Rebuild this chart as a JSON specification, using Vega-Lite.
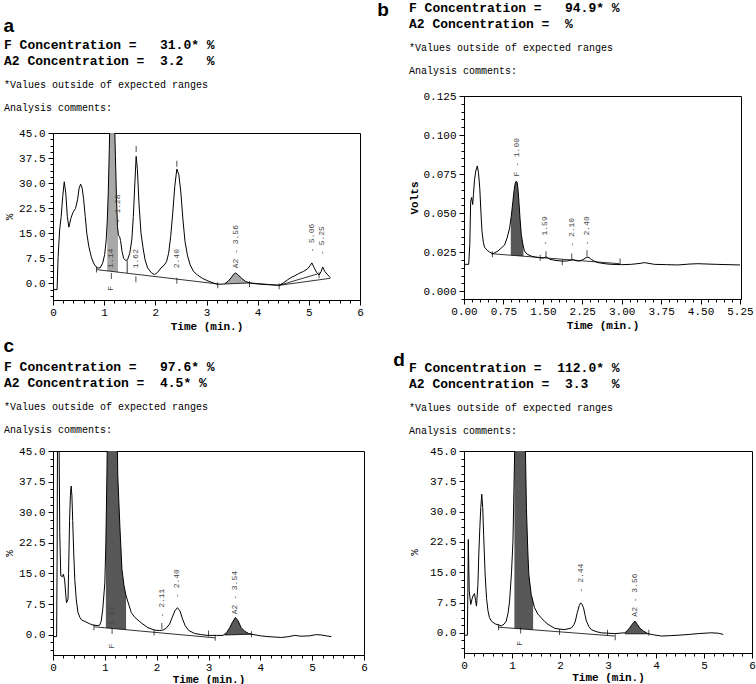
{
"$schema":"https://vega.github.io/schema/vega-lite/v6.json",
"background":"white",
"padding":{"left":3,"top":1,"right":0,"bottom":0},
"spacing":9,
"hconcat":[
{"spacing":5,"vconcat":[
 {"spacing":-94,"vconcat":[
 {"width":1,"height":1,"data":{"values":[]},"mark":{"type":"point","opacity":0},"encoding":{},"view":{"stroke":null}},
 {"title":{"text":["","a"],"anchor":"start","font":"Liberation Sans","fontSize":19,"fontWeight":"bold","lineHeight":14,"offset":2,"color":"black"},
  "vconcat":[{
  "width":307,"height":167,
  "title":{"text":["F Concentration =\u00a0\u00a0\u00a031.0* %","A2 Concentration =\u00a0\u00a03.2\u00a0\u00a0\u00a0%"],"subtitle":["*Values outside of expected ranges","Analysis comments:"],"anchor":"start","font":"Liberation Mono","fontSize":13,"fontWeight":"bold","lineHeight":16.5,"subtitleFont":"Liberation Mono","subtitleFontSize":10,"subtitleLineHeight":23,"subtitlePadding":12,"offset":14,"color":"black","subtitleColor":"black"},
  "encoding":{
   "x":{"field":"x","type":"quantitative","scale":{"domain":[0,6],"nice":false,"zero":false},"axis":{"title":"Time (min.)","values":[0,0.2,0.4,0.6,0.8,1,1.2,1.4,1.6,1.8,2,2.2,2.4,2.6,2.8,3,3.2,3.4,3.6,3.8,4,4.2,4.4,4.6,4.8,5,5.2,5.4,5.6,5.8,6],"labelExpr":"abs(datum.value - round(datum.value)) < 0.001 ? '' + round(datum.value) : ''","tickSize":{"condition":{"test":"abs(datum.value - round(datum.value)) < 0.001","value":5},"value":3}}},
   "y":{"field":"y","type":"quantitative","scale":{"domain":[-5,45],"nice":false,"zero":false},"axis":{"title":"%","titleFontWeight":"normal","titlePadding":3.6,"values":[-3.75,-1.875,0,1.875,3.75,5.625,7.5,9.375,11.25,13.125,15,16.875,18.75,20.625,22.5,24.375,26.25,28.125,30,31.875,33.75,35.625,37.5,39.375,41.25,43.125,45],"format":".1f","labelExpr":"datum.value % 7.5 === 0 ? datum.label : ''","tickSize":{"condition":{"test":"datum.value % 7.5 === 0","value":5},"value":3}}}
  },
  "layer":[
   {"data":{"values":[{"x":1.06,"y":18.6,"y0":3.72},{"x":1.08,"y":27,"y0":3.68},{"x":1.1,"y":40,"y0":3.65},{"x":1.12,"y":55,"y0":3.61},{"x":1.15,"y":70,"y0":3.56},{"x":1.18,"y":62,"y0":3.5},{"x":1.2,"y":50,"y0":3.47},{"x":1.22,"y":38,"y0":3.43},{"x":1.24,"y":26,"y0":3.39},{"x":1.26,"y":17,"y0":3.36},{"x":1.27,"y":15.6,"y0":3.34}]},"mark":{"type":"area","color":"#a8a8a8","clip":true},"encoding":{"y2":{"field":"y0"}}},
   {"data":{"values":[{"x":3.35,"y":-0.2,"y0":-0.2},{"x":3.42,"y":0.6,"y0":-0.16},{"x":3.48,"y":1.6,"y0":-0.12},{"x":3.53,"y":2.7,"y0":-0.09},{"x":3.57,"y":3.1,"y0":-0.07},{"x":3.61,"y":2.6,"y0":-0.04},{"x":3.68,"y":1.6,"y0":0},{"x":3.76,"y":0.6,"y0":0.05},{"x":3.84,"y":0.1,"y0":0.1}]},"mark":{"type":"area","color":"#a8a8a8","clip":true},"encoding":{"y2":{"field":"y0"}}},
   {"data":{"values":[{"x":0,"y":-1.9},{"x":0.08,"y":-1.9},{"x":0.1,"y":8},{"x":0.13,"y":16},{"x":0.16,"y":20},{"x":0.19,"y":26},{"x":0.22,"y":30.4},{"x":0.25,"y":27},{"x":0.28,"y":20},{"x":0.31,"y":16.8},{"x":0.35,"y":19.5},{"x":0.39,"y":21.2},{"x":0.44,"y":22.4},{"x":0.48,"y":25},{"x":0.51,"y":28.5},{"x":0.54,"y":29.7},{"x":0.57,"y":28.5},{"x":0.6,"y":25},{"x":0.63,"y":20},{"x":0.66,"y":15},{"x":0.7,"y":11},{"x":0.75,"y":7.8},{"x":0.8,"y":5.8},{"x":0.86,"y":4.6},{"x":0.92,"y":4.6},{"x":0.97,"y":6},{"x":1.01,"y":8.6},{"x":1.04,"y":13},{"x":1.06,"y":18.6},{"x":1.08,"y":27},{"x":1.1,"y":40},{"x":1.12,"y":55},{"x":1.15,"y":70},{"x":1.18,"y":62},{"x":1.2,"y":50},{"x":1.22,"y":38},{"x":1.24,"y":26},{"x":1.26,"y":17},{"x":1.28,"y":14.3},{"x":1.3,"y":14.1},{"x":1.32,"y":12.8},{"x":1.35,"y":9.5},{"x":1.38,"y":7.5},{"x":1.42,"y":6.8},{"x":1.46,"y":7.2},{"x":1.5,"y":9},{"x":1.54,"y":13},{"x":1.57,"y":20},{"x":1.6,"y":30},{"x":1.625,"y":38},{"x":1.65,"y":34},{"x":1.68,"y":24},{"x":1.72,"y":15},{"x":1.76,"y":10.6},{"x":1.8,"y":7},{"x":1.85,"y":4.6},{"x":1.92,"y":3.2},{"x":1.98,"y":2.6},{"x":2.04,"y":3.2},{"x":2.11,"y":4.6},{"x":2.17,"y":5.4},{"x":2.22,"y":6.5},{"x":2.26,"y":9},{"x":2.3,"y":14},{"x":2.34,"y":21},{"x":2.38,"y":29},{"x":2.42,"y":34.2},{"x":2.46,"y":32.5},{"x":2.5,"y":27},{"x":2.54,"y":19},{"x":2.58,"y":12.5},{"x":2.63,"y":8.2},{"x":2.68,"y":5.5},{"x":2.75,"y":3.5},{"x":2.83,"y":2.4},{"x":2.93,"y":1.4},{"x":3.03,"y":0.7},{"x":3.13,"y":0.1},{"x":3.22,"y":-0.3},{"x":3.35,"y":-0.2},{"x":3.42,"y":0.6},{"x":3.48,"y":1.6},{"x":3.53,"y":2.7},{"x":3.57,"y":3.1},{"x":3.61,"y":2.6},{"x":3.68,"y":1.6},{"x":3.76,"y":0.6},{"x":3.84,"y":0.1},{"x":4,"y":-0.2},{"x":4.2,"y":-0.4},{"x":4.42,"y":-0.6},{"x":4.5,"y":0.1},{"x":4.59,"y":1.1},{"x":4.66,"y":1.8},{"x":4.72,"y":2.2},{"x":4.8,"y":2.9},{"x":4.9,"y":3.6},{"x":4.98,"y":4.4},{"x":5.03,"y":5.4},{"x":5.06,"y":6.1},{"x":5.1,"y":4.8},{"x":5.15,"y":3.3},{"x":5.2,"y":2.5},{"x":5.24,"y":3.5},{"x":5.27,"y":4.9},{"x":5.31,"y":3.6},{"x":5.37,"y":2.5},{"x":5.42,"y":1.7}]},"mark":{"type":"line","color":"black","strokeWidth":1,"clip":true},"encoding":{}},
   {"data":{"values":[{"x":0.85,"y":4.1,"seg":"1"},{"x":3.22,"y":-0.2,"seg":"1"},{"x":3.35,"y":-0.2,"seg":"2"},{"x":3.84,"y":0.1,"seg":"2"},{"x":3.84,"y":0.1,"seg":"3"},{"x":4.42,"y":-0.6,"seg":"3"},{"x":4.42,"y":-0.6,"seg":"4"},{"x":5.17,"y":2.8,"seg":"4"},{"x":4.42,"y":-0.6,"seg":"5"},{"x":5.42,"y":1.5,"seg":"5"},{"x":1.45,"y":3.07,"seg":"6"},{"x":1.45,"y":6.9,"seg":"6"}]},"mark":{"type":"line","color":"black","strokeWidth":0.8},"encoding":{"detail":{"field":"seg"}}},
   {"data":{"values":[{"x":0.85,"y":4.1},{"x":1.14,"y":2.2},{"x":1.62,"y":1.2},{"x":2.42,"y":0.8},{"x":3.22,"y":-0.6},{"x":3.84,"y":-0.2},{"x":4.42,"y":-0.9},{"x":5.2,"y":2.4},{"x":1.625,"y":40.2},{"x":2.42,"y":35.8}]},"mark":{"type":"tick","orient":"vertical","size":6,"thickness":1,"color":"black"}},
   {"data":{"values":[{"x":1.14,"y":4.6,"t":"1.14"},{"x":1.14,"y":-2.2,"t":"F"},{"x":1.28,"y":18,"t":"- 1.28"},{"x":1.62,"y":4.5,"t":"1.62"},{"x":2.42,"y":4.5,"t":"2.40"},{"x":3.57,"y":4.5,"t":"A2 - 3.56"},{"x":5.06,"y":9.2,"t":"- 5.06"},{"x":5.26,"y":8.5,"t":"- 5.25"}]},"mark":{"type":"text","angle":270,"align":"left","baseline":"middle","font":"Liberation Mono","fontSize":8,"color":"#444"},"encoding":{"text":{"field":"t"}}}
  ]}]}
 ]},
 {"title":{"text":"c","anchor":"start","font":"Liberation Sans","fontSize":19,"fontWeight":"bold","offset":4,"color":"black"},
  "vconcat":[{
  "width":311,"height":204,
  "title":{"text":["F Concentration =\u00a0\u00a0\u00a097.6* %","A2 Concentration =\u00a0\u00a04.5* %"],"subtitle":["*Values outside of expected ranges","Analysis comments:"],"anchor":"start","font":"Liberation Mono","fontSize":13,"fontWeight":"bold","lineHeight":16.5,"subtitleFont":"Liberation Mono","subtitleFontSize":10,"subtitleLineHeight":23,"subtitlePadding":12,"offset":10,"color":"black","subtitleColor":"black"},
  "encoding":{
   "x":{"field":"x","type":"quantitative","scale":{"domain":[0,6],"nice":false,"zero":false},"axis":{"title":"Time (min.)","titlePadding":1,"values":[0,0.2,0.4,0.6,0.8,1,1.2,1.4,1.6,1.8,2,2.2,2.4,2.6,2.8,3,3.2,3.4,3.6,3.8,4,4.2,4.4,4.6,4.8,5,5.2,5.4,5.6,5.8,6],"labelExpr":"abs(datum.value - round(datum.value)) < 0.001 ? '' + round(datum.value) : ''","tickSize":{"condition":{"test":"abs(datum.value - round(datum.value)) < 0.001","value":5},"value":3}}},
   "y":{"field":"y","type":"quantitative","scale":{"domain":[-5,45],"nice":false,"zero":false},"axis":{"title":"%","titleFontWeight":"normal","titlePadding":3.6,"values":[-3.75,-1.875,0,1.875,3.75,5.625,7.5,9.375,11.25,13.125,15,16.875,18.75,20.625,22.5,24.375,26.25,28.125,30,31.875,33.75,35.625,37.5,39.375,41.25,43.125,45],"format":".1f","labelExpr":"datum.value % 7.5 === 0 ? datum.label : ''","tickSize":{"condition":{"test":"datum.value % 7.5 === 0","value":5},"value":3}}}
  },
  "layer":[
   {"data":{"values":[{"x":1.02,"y":22.5,"y0":1.65},{"x":1.04,"y":38.9,"y0":1.62},{"x":1.05,"y":50,"y0":1.61},{"x":1.1,"y":80,"y0":1.55},{"x":1.15,"y":90,"y0":1.49},{"x":1.2,"y":80,"y0":1.44},{"x":1.25,"y":38.9,"y0":1.38},{"x":1.29,"y":26.6,"y0":1.33},{"x":1.33,"y":16,"y0":1.29},{"x":1.37,"y":12,"y0":1.24},{"x":1.41,"y":9.5,"y0":1.19}]},"mark":{"type":"area","color":"#585858","clip":true},"encoding":{"y2":{"field":"y0"}}},
   {"data":{"values":[{"x":3.31,"y":0.1,"y0":-0.1},{"x":3.35,"y":0.5,"y0":-0.08},{"x":3.41,"y":1.7,"y0":-0.06},{"x":3.46,"y":3,"y0":-0.04},{"x":3.52,"y":4.2,"y0":-0.02},{"x":3.57,"y":3.4,"y0":0},{"x":3.63,"y":1.7,"y0":0.02},{"x":3.7,"y":0.8,"y0":0.05},{"x":3.77,"y":0.3,"y0":0.08},{"x":3.83,"y":0.1,"y0":0.1}]},"mark":{"type":"area","color":"#585858","clip":true},"encoding":{"y2":{"field":"y0"}}},
   {"data":{"values":[{"x":0,"y":-0.5},{"x":0.07,"y":-0.5},{"x":0.08,"y":20},{"x":0.09,"y":60},{"x":0.11,"y":60},{"x":0.13,"y":25},{"x":0.15,"y":14.4},{"x":0.18,"y":14.2},{"x":0.2,"y":14.8},{"x":0.225,"y":13.4},{"x":0.245,"y":10},{"x":0.26,"y":7.8},{"x":0.29,"y":8.7},{"x":0.3,"y":15},{"x":0.32,"y":28},{"x":0.335,"y":34},{"x":0.35,"y":36.4},{"x":0.365,"y":34},{"x":0.38,"y":28},{"x":0.4,"y":20},{"x":0.42,"y":13.5},{"x":0.45,"y":8.5},{"x":0.48,"y":5.5},{"x":0.52,"y":4.2},{"x":0.55,"y":3.6},{"x":0.62,"y":3.2},{"x":0.7,"y":2.7},{"x":0.78,"y":2.3},{"x":0.87,"y":2.2},{"x":0.9,"y":2.3},{"x":0.93,"y":3.3},{"x":0.96,"y":6.2},{"x":1,"y":12.7},{"x":1.02,"y":22.5},{"x":1.04,"y":38.9},{"x":1.05,"y":50},{"x":1.1,"y":80},{"x":1.15,"y":90},{"x":1.2,"y":80},{"x":1.25,"y":38.9},{"x":1.29,"y":26.6},{"x":1.33,"y":16},{"x":1.37,"y":12},{"x":1.41,"y":9.5},{"x":1.51,"y":5.4},{"x":1.58,"y":4.2},{"x":1.7,"y":2.9},{"x":1.83,"y":1.7},{"x":1.96,"y":1.1},{"x":2.05,"y":1},{"x":2.12,"y":1.1},{"x":2.18,"y":1.5},{"x":2.25,"y":2.6},{"x":2.3,"y":4.2},{"x":2.35,"y":5.8},{"x":2.4,"y":6.6},{"x":2.45,"y":5.8},{"x":2.5,"y":3.8},{"x":2.55,"y":2.2},{"x":2.62,"y":1},{"x":2.73,"y":0.3},{"x":2.85,"y":0},{"x":2.99,"y":-0.2},{"x":3.15,"y":-0.2},{"x":3.28,"y":-0.2},{"x":3.35,"y":0.5},{"x":3.41,"y":1.7},{"x":3.46,"y":3},{"x":3.52,"y":4.2},{"x":3.57,"y":3.4},{"x":3.63,"y":1.7},{"x":3.7,"y":0.8},{"x":3.77,"y":0.3},{"x":3.83,"y":0.1},{"x":4,"y":-0.3},{"x":4.15,"y":-0.5},{"x":4.41,"y":-0.7},{"x":4.55,"y":-0.5},{"x":4.66,"y":-0.2},{"x":4.79,"y":-0.4},{"x":4.95,"y":-0.3},{"x":5.08,"y":0},{"x":5.18,"y":-0.1},{"x":5.27,"y":-0.3},{"x":5.37,"y":-0.5}]},"mark":{"type":"line","color":"black","strokeWidth":1,"clip":true},"encoding":{}},
   {"data":{"values":[{"x":0.8,"y":1.9,"seg":"1"},{"x":3.13,"y":-0.8,"seg":"1"},{"x":3.31,"y":-0.1,"seg":"2"},{"x":3.83,"y":0.1,"seg":"2"}]},"mark":{"type":"line","color":"black","strokeWidth":0.8},"encoding":{"detail":{"field":"seg"}}},
   {"data":{"values":[{"x":0.79,"y":1.8},{"x":1.14,"y":0.9},{"x":1.95,"y":0.5},{"x":3.0,"y":0.3},{"x":3.13,"y":-0.8},{"x":3.83,"y":0.1},{"x":2.1,"y":2.1}]},"mark":{"type":"tick","orient":"vertical","size":6,"thickness":1,"color":"black"}},
   {"data":{"values":[{"x":1.14,"y":2.2,"t":"1.17"},{"x":1.14,"y":-3.4,"t":"F"},{"x":2.1,"y":4.2,"t":"- 2.11"},{"x":2.4,"y":9,"t":"- 2.40"},{"x":3.52,"y":5,"t":"A2 - 3.54"}]},"mark":{"type":"text","angle":270,"align":"left","baseline":"middle","font":"Liberation Mono","fontSize":8,"color":"#444"},"encoding":{"text":{"field":"t"}}}
  ]}]}
]},
{"spacing":20,"vconcat":[
  {"title":{"text":"b","orient":"left","angle":0,"anchor":"end","align":"right","baseline":"top","font":"Liberation Sans","fontSize":19,"fontWeight":"bold","offset":8,"color":"black"},
  "vconcat":[{
  "width":277,"height":203,
  "title":{"text":["F Concentration =\u00a0\u00a0\u00a094.9* %","A2 Concentration =\u00a0\u00a0%"],"subtitle":["*Values outside of expected ranges","Analysis comments:"],"anchor":"start","font":"Liberation Mono","fontSize":13,"fontWeight":"bold","lineHeight":16.5,"subtitleFont":"Liberation Mono","subtitleFontSize":10,"subtitleLineHeight":23,"subtitlePadding":12,"offset":14,"color":"black","subtitleColor":"black"},
  "encoding":{
   "x":{"field":"x","type":"quantitative","scale":{"domain":[0,5.27],"nice":false,"zero":false},"axis":{"title":"Time (min.)","values":[0,0.15,0.3,0.45,0.6,0.75,0.9,1.05,1.2,1.35,1.5,1.65,1.8,1.95,2.1,2.25,2.4,2.55,2.7,2.85,3,3.15,3.3,3.45,3.6,3.75,3.9,4.05,4.2,4.35,4.5,4.65,4.8,4.95,5.1,5.25],"format":".2f","labelExpr":"abs(datum.value/0.75 - round(datum.value/0.75)) < 0.001 ? datum.label : ''","tickSize":{"condition":{"test":"abs(datum.value/0.75 - round(datum.value/0.75)) < 0.001","value":5},"value":3}}},
   "y":{"field":"y","type":"quantitative","scale":{"domain":[-0.005,0.125],"nice":false,"zero":false},"axis":{"title":"Volts","titlePadding":3,"values":[-0.005,0,0.005,0.01,0.015,0.02,0.025,0.03,0.035,0.04,0.045,0.05,0.055,0.06,0.065,0.07,0.075,0.08,0.085,0.09,0.095,0.1,0.105,0.11,0.115,0.12,0.125],"format":".3f","labelExpr":"abs(datum.value/0.025 - round(datum.value/0.025)) < 0.001 ? datum.label : ''","tickSize":{"condition":{"test":"abs(datum.value/0.025 - round(datum.value/0.025)) < 0.001","value":5},"value":3}}}
  },
  "layer":[
   {"data":{"values":[{"x":0.89,"y":0.0457,"y0":0.023},{"x":0.9,"y":0.048,"y0":0.023},{"x":0.93,"y":0.0575,"y0":0.0229},{"x":0.955,"y":0.065,"y0":0.0229},{"x":0.975,"y":0.0692,"y0":0.0228},{"x":0.995,"y":0.0705,"y0":0.0228},{"x":1.01,"y":0.0698,"y0":0.0227},{"x":1.025,"y":0.066,"y0":0.0227},{"x":1.04,"y":0.0597,"y0":0.0226},{"x":1.065,"y":0.047,"y0":0.0226},{"x":1.09,"y":0.0363,"y0":0.0225},{"x":1.12,"y":0.03,"y0":0.0224},{"x":1.13,"y":0.0285,"y0":0.0224}]},"mark":{"type":"area","color":"#585858","clip":true},"encoding":{"y2":{"field":"y0"}}},
   {"data":{"values":[{"x":0,"y":0.0172},{"x":0.09,"y":0.0172},{"x":0.11,"y":0.03},{"x":0.127,"y":0.0575},{"x":0.145,"y":0.06},{"x":0.165,"y":0.0555},{"x":0.18,"y":0.062},{"x":0.2,"y":0.0713},{"x":0.225,"y":0.077},{"x":0.253,"y":0.0802},{"x":0.275,"y":0.076},{"x":0.3,"y":0.066},{"x":0.32,"y":0.052},{"x":0.342,"y":0.0384},{"x":0.37,"y":0.031},{"x":0.39,"y":0.0282},{"x":0.44,"y":0.0262},{"x":0.49,"y":0.025},{"x":0.55,"y":0.024},{"x":0.646,"y":0.0257},{"x":0.72,"y":0.028},{"x":0.77,"y":0.0295},{"x":0.82,"y":0.034},{"x":0.868,"y":0.0405},{"x":0.9,"y":0.048},{"x":0.93,"y":0.0575},{"x":0.955,"y":0.065},{"x":0.975,"y":0.0692},{"x":0.995,"y":0.0705},{"x":1.01,"y":0.0698},{"x":1.025,"y":0.066},{"x":1.04,"y":0.0597},{"x":1.065,"y":0.047},{"x":1.09,"y":0.0363},{"x":1.12,"y":0.03},{"x":1.15,"y":0.0257},{"x":1.2,"y":0.0237},{"x":1.28,"y":0.0225},{"x":1.36,"y":0.0218},{"x":1.44,"y":0.0214},{"x":1.5,"y":0.0212},{"x":1.56,"y":0.0219},{"x":1.6,"y":0.0212},{"x":1.63,"y":0.0204},{"x":1.75,"y":0.0197},{"x":1.85,"y":0.0193},{"x":1.95,"y":0.0193},{"x":2.04,"y":0.02},{"x":2.08,"y":0.0202},{"x":2.13,"y":0.0195},{"x":2.2,"y":0.0193},{"x":2.28,"y":0.0205},{"x":2.34,"y":0.0219},{"x":2.38,"y":0.0215},{"x":2.42,"y":0.0204},{"x":2.48,"y":0.0192},{"x":2.55,"y":0.0183},{"x":2.68,"y":0.0176},{"x":2.8,"y":0.0172},{"x":3,"y":0.017},{"x":3.18,"y":0.0172},{"x":3.35,"y":0.0178},{"x":3.43,"y":0.0183},{"x":3.52,"y":0.0178},{"x":3.62,"y":0.0172},{"x":3.85,"y":0.017},{"x":4.07,"y":0.0168},{"x":4.3,"y":0.0174},{"x":4.45,"y":0.0176},{"x":4.8,"y":0.0172},{"x":5.25,"y":0.0168}]},"mark":{"type":"line","color":"black","strokeWidth":1,"clip":true},"encoding":{}},
   {"data":{"values":[{"x":0.52,"y":0.024,"seg":"1"},{"x":2.96,"y":0.0176,"seg":"1"}]},"mark":{"type":"line","color":"black","strokeWidth":0.8},"encoding":{"detail":{"field":"seg"}}},
   {"data":{"values":[{"x":0.54,"y":0.0236},{"x":1.45,"y":0.0214},{"x":1.87,"y":0.0185},{"x":2.97,"y":0.019},{"x":1.56,"y":0.0237},{"x":2.05,"y":0.0222},{"x":2.34,"y":0.0243}]},"mark":{"type":"tick","orient":"vertical","size":6,"thickness":1,"color":"black"}},
   {"data":{"values":[{"x":1.0,"y":0.0735,"t":"F - 1.00"},{"x":1.55,"y":0.0295,"t":"- 1.59"},{"x":2.05,"y":0.0285,"t":"- 2.10"},{"x":2.34,"y":0.0295,"t":"- 2.40"}]},"mark":{"type":"text","angle":270,"align":"left","baseline":"middle","font":"Liberation Mono","fontSize":8,"color":"#444"},"encoding":{"text":{"field":"t"}}}
  ]}]},
 {"title":{"text":"d","orient":"left","angle":0,"anchor":"end","align":"right","baseline":"top","font":"Liberation Sans","fontSize":19,"fontWeight":"bold","offset":-8,"dy":-10,"color":"black"},
  "vconcat":[{
  "width":288,"height":202,
  "title":{"text":["F Concentration =\u00a0\u00a0112.0* %","A2 Concentration =\u00a0\u00a03.3\u00a0\u00a0\u00a0%"],"subtitle":["*Values outside of expected ranges","Analysis comments:"],"anchor":"start","font":"Liberation Mono","fontSize":13,"fontWeight":"bold","lineHeight":16.5,"subtitleFont":"Liberation Mono","subtitleFontSize":10,"subtitleLineHeight":23,"subtitlePadding":12,"offset":9,"color":"black","subtitleColor":"black"},
  "encoding":{
   "x":{"field":"x","type":"quantitative","scale":{"domain":[0,6],"nice":false,"zero":false},"axis":{"title":"Time (min.)","titlePadding":1,"values":[0,0.2,0.4,0.6,0.8,1,1.2,1.4,1.6,1.8,2,2.2,2.4,2.6,2.8,3,3.2,3.4,3.6,3.8,4,4.2,4.4,4.6,4.8,5,5.2,5.4,5.6,5.8,6],"labelExpr":"abs(datum.value - round(datum.value)) < 0.001 ? '' + round(datum.value) : ''","tickSize":{"condition":{"test":"abs(datum.value - round(datum.value)) < 0.001","value":5},"value":3}}},
   "y":{"field":"y","type":"quantitative","scale":{"domain":[-5,45],"nice":false,"zero":false},"axis":{"title":"%","titleFontWeight":"normal","titlePadding":9.6,"values":[-3.75,-1.875,0,1.875,3.75,5.625,7.5,9.375,11.25,13.125,15,16.875,18.75,20.625,22.5,24.375,26.25,28.125,30,31.875,33.75,35.625,37.5,39.375,41.25,43.125,45],"format":".1f","labelExpr":"datum.value % 7.5 === 0 ? datum.label : ''","tickSize":{"condition":{"test":"datum.value % 7.5 === 0","value":5},"value":3}}}
  },
  "layer":[
   {"data":{"values":[{"x":1.05,"y":41.5,"y0":1.09},{"x":1.06,"y":48,"y0":1.08},{"x":1.1,"y":80,"y0":1.05},{"x":1.18,"y":90,"y0":0.97},{"x":1.26,"y":70,"y0":0.9},{"x":1.28,"y":45,"y0":0.88},{"x":1.3,"y":31,"y0":0.87},{"x":1.33,"y":20,"y0":0.84},{"x":1.35,"y":14.5,"y0":0.82},{"x":1.4,"y":9.5,"y0":0.78},{"x":1.44,"y":7.6,"y0":0.74}]},"mark":{"type":"area","color":"#585858","clip":true},"encoding":{"y2":{"field":"y0"}}},
   {"data":{"values":[{"x":3.35,"y":0,"y0":-0.25},{"x":3.4,"y":0.5,"y0":-0.25},{"x":3.45,"y":1.2,"y0":-0.25},{"x":3.51,"y":2.2,"y0":-0.25},{"x":3.56,"y":2.9,"y0":-0.25},{"x":3.61,"y":2.1,"y0":-0.25},{"x":3.66,"y":1.2,"y0":-0.25},{"x":3.74,"y":0.4,"y0":-0.25},{"x":3.83,"y":-0.2,"y0":-0.25}]},"mark":{"type":"area","color":"#585858","clip":true},"encoding":{"y2":{"field":"y0"}}},
   {"data":{"values":[{"x":0,"y":-0.6},{"x":0.07,"y":-0.6},{"x":0.08,"y":10},{"x":0.09,"y":23.1},{"x":0.1,"y":16},{"x":0.11,"y":10.3},{"x":0.14,"y":7},{"x":0.17,"y":8.5},{"x":0.2,"y":9.5},{"x":0.22,"y":9.7},{"x":0.24,"y":8},{"x":0.26,"y":6.6},{"x":0.29,"y":12},{"x":0.31,"y":20},{"x":0.33,"y":26},{"x":0.35,"y":31},{"x":0.37,"y":34.3},{"x":0.39,"y":31},{"x":0.41,"y":24},{"x":0.44,"y":14.5},{"x":0.47,"y":8.5},{"x":0.5,"y":5.4},{"x":0.53,"y":3.8},{"x":0.57,"y":2.9},{"x":0.65,"y":2.2},{"x":0.78,"y":1.7},{"x":0.84,"y":2.2},{"x":0.88,"y":2.9},{"x":0.92,"y":5},{"x":0.95,"y":7.9},{"x":0.99,"y":15},{"x":1.02,"y":22.7},{"x":1.04,"y":35},{"x":1.06,"y":48},{"x":1.1,"y":80},{"x":1.18,"y":90},{"x":1.26,"y":70},{"x":1.28,"y":45},{"x":1.3,"y":31},{"x":1.33,"y":20},{"x":1.35,"y":14.5},{"x":1.4,"y":9.5},{"x":1.47,"y":6.2},{"x":1.54,"y":4.6},{"x":1.61,"y":3.7},{"x":1.68,"y":2.8},{"x":1.75,"y":2.1},{"x":1.89,"y":1.1},{"x":2,"y":0.9},{"x":2.1,"y":0.8},{"x":2.24,"y":1.2},{"x":2.29,"y":2},{"x":2.32,"y":2.9},{"x":2.36,"y":5},{"x":2.4,"y":6.7},{"x":2.43,"y":7.4},{"x":2.46,"y":7},{"x":2.49,"y":6.2},{"x":2.52,"y":4.5},{"x":2.55,"y":2.9},{"x":2.6,"y":1.6},{"x":2.65,"y":0.8},{"x":2.75,"y":0.3},{"x":2.86,"y":0},{"x":3,"y":-0.1},{"x":3.14,"y":-0.2},{"x":3.35,"y":0},{"x":3.4,"y":0.5},{"x":3.45,"y":1.2},{"x":3.51,"y":2.2},{"x":3.56,"y":2.9},{"x":3.61,"y":2.1},{"x":3.66,"y":1.2},{"x":3.74,"y":0.4},{"x":3.83,"y":-0.2},{"x":3.95,"y":-0.5},{"x":4.11,"y":-0.8},{"x":4.3,"y":-0.7},{"x":4.46,"y":-0.6},{"x":4.7,"y":-0.4},{"x":4.88,"y":-0.2},{"x":5.15,"y":0},{"x":5.3,"y":-0.1},{"x":5.4,"y":-0.4}]},"mark":{"type":"line","color":"black","strokeWidth":1,"clip":true},"encoding":{}},
   {"data":{"values":[{"x":0.71,"y":1.4,"seg":"1"},{"x":3.14,"y":-0.8,"seg":"1"},{"x":3.35,"y":-0.25,"seg":"2"},{"x":3.83,"y":-0.25,"seg":"2"}]},"mark":{"type":"line","color":"black","strokeWidth":0.8},"encoding":{"detail":{"field":"seg"}}},
   {"data":{"values":[{"x":0.72,"y":1.4},{"x":1.18,"y":0.6},{"x":1.99,"y":0.2},{"x":2.99,"y":0},{"x":3.15,"y":-1.1},{"x":3.85,"y":0}]},"mark":{"type":"tick","orient":"vertical","size":6,"thickness":1,"color":"black"}},
   {"data":{"values":[{"x":1.16,"y":-3.2,"t":"F"},{"x":2.43,"y":10,"t":"- 2.44"},{"x":3.56,"y":4,"t":"A2 - 3.56"}]},"mark":{"type":"text","angle":270,"align":"left","baseline":"middle","font":"Liberation Mono","fontSize":8,"color":"#444"},"encoding":{"text":{"field":"t"}}}
  ]}]}
]}
],
"config":{
 "view":{"stroke":"black","strokeWidth":1},
 "axis":{"grid":false,"domainColor":"black","tickColor":"black","labelColor":"black","titleColor":"black","labelFont":"Liberation Mono","labelFontSize":11,"titleFont":"Liberation Mono","titleFontSize":11,"titleFontWeight":"bold","labelFlush":false,"labelOverlap":false,"labelPadding":3,"titlePadding":3},
 "axisX":{"labelPadding":1}
}
}
